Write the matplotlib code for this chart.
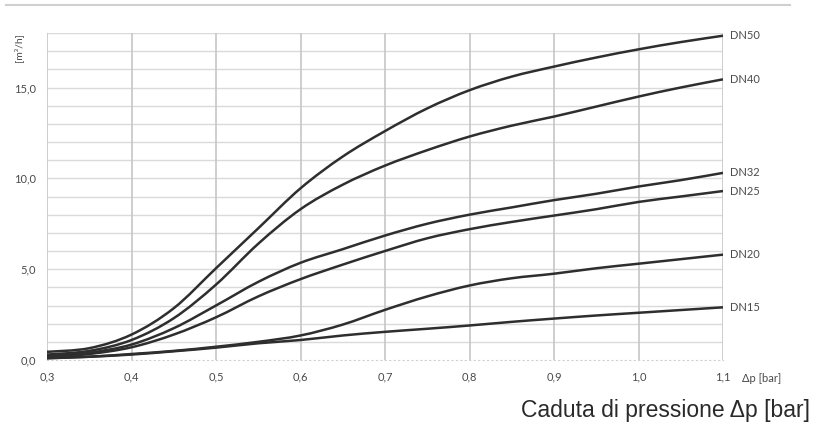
import matplotlib
matplotlib.use("Agg")
import matplotlib.pyplot as plt
from matplotlib.path import Path
from matplotlib.patches import PathPatch
import numpy as np

dp = [0.30, 0.35, 0.40, 0.45, 0.50, 0.55, 0.60, 0.65, 0.70, 0.75, 0.80, 0.85, 0.90, 0.95, 1.00, 1.05, 1.10]
DN50 = [0.45, 0.65, 1.4, 2.85, 5.05, 7.25, 9.45, 11.2, 12.6, 13.85, 14.85, 15.6, 16.15, 16.65, 17.1, 17.5, 17.85]
DN40 = [0.3, 0.5, 1.1, 2.3, 4.15, 6.4, 8.3, 9.65, 10.7, 11.55, 12.3, 12.9, 13.4, 13.95, 14.5, 15.0, 15.45]
DN32 = [0.2, 0.4, 0.85, 1.75, 3.0, 4.3, 5.35, 6.1, 6.85, 7.5, 8.0, 8.4, 8.8, 9.15, 9.55, 9.9, 10.3]
DN25 = [0.15, 0.33, 0.7, 1.4, 2.35, 3.5, 4.45, 5.25, 6.0, 6.7, 7.2, 7.6, 7.95, 8.3, 8.7, 9.0, 9.3]
DN20 = [0.1, 0.18, 0.33, 0.5, 0.73, 1.0, 1.35, 1.95, 2.76, 3.5, 4.1, 4.5, 4.75, 5.05, 5.3, 5.55, 5.8]
DN15 = [0.1, 0.18, 0.3, 0.48, 0.68, 0.92, 1.1, 1.35, 1.55, 1.72, 1.9, 2.1, 2.28, 2.45, 2.6, 2.75, 2.9]

series = {"DN50": DN50, "DN40": DN40, "DN32": DN32, "DN25": DN25, "DN20": DN20, "DN15": DN15}
xticks = [0.3, 0.4, 0.5, 0.6, 0.7, 0.8, 0.9, 1.0, 1.1]
xticklabels = ["0,3", "0,4", "0,5", "0,6", "0,7", "0,8", "0,9", "1,0", "1,1"]
yticks = [0.0, 5.0, 10.0, 15.0]
yticklabels = ["0,0", "5,0", "10,0", "15,0"]

LBL = dict(fontsize=8, color="#4a4a4a", family=["Lato", "DejaVu Sans"])


def smooth_path(x, y, t=1/6):
    # Excel-style smoothed line: cubic Bezier segments through the data points
    x = np.asarray(x, float)
    y = np.asarray(y, float)
    n = len(x)
    verts = [(x[0], y[0])]
    codes = [Path.MOVETO]
    for i in range(n - 1):
        x0, y0 = (x[i - 1], y[i - 1]) if i > 0 else (x[i], y[i])
        x3, y3 = (x[i + 2], y[i + 2]) if i + 2 < n else (x[i + 1], y[i + 1])
        c1 = (x[i] + (x[i + 1] - x0) * t, y[i] + (y[i + 1] - y0) * t)
        c2 = (x[i + 1] - (x3 - x[i]) * t, y[i + 1] - (y3 - y[i]) * t)
        verts += [c1, c2, (x[i + 1], y[i + 1])]
        codes += [Path.CURVE4] * 3
    return Path(verts, codes)


fig = plt.figure(figsize=(8.13, 4.32), dpi=100)
ax = fig.add_axes([47/813, 1-360/432, (723-47)/813, (360-33)/432])
ax.set_xlim(0.3, 1.1)
ax.set_ylim(0, 18)

for v in np.arange(1, 19, 1):
    ax.axhline(v, color="#dadada", lw=1.0, zorder=1)
for v in xticks:
    ax.axvline(v, color="#c6c6c6", lw=1.2, zorder=1)

for name, vals in series.items():
    ax.add_patch(PathPatch(smooth_path(dp, vals), facecolor="none",
                           edgecolor="#2e2e2e", lw=1.8, zorder=3))
    ax.text(1.1 + 0.008, vals[-1], name, va="center", ha="left", clip_on=False, **LBL)

ax.set_xticks(xticks)
ax.set_xticklabels(xticklabels, **LBL)
ax.set_yticks(yticks)
ax.set_yticklabels(yticklabels, **LBL)
ax.tick_params(length=0, pad=8)
for s in ["top", "right", "left"]:
    ax.spines[s].set_visible(False)
ax.spines["bottom"].set_color("#cfcfcf")
ax.spines["bottom"].set_linestyle((0, (1, 3)))

fig.text(762/813, 1-379/432, "Δp [bar]", ha="center", va="center", **LBL)
fig.text(18/813, 1-48/432, "[m³/h]", fontsize=7.5, color="#4a4a4a", rotation=90,
         ha="center", va="center", family=["Lato", "DejaVu Sans"])
fig.text(810/813, 1-410/432, "Caduta di pressione Δp [bar]", fontsize=16.5,
         color="#2a2a2a", ha="right", va="center", family=["Liberation Sans", "DejaVu Sans"])

fig.add_artist(plt.Line2D([6/813, 790/813], [1-5/432, 1-5/432], color="#d0d0d0", lw=1.5))

fig.savefig("out.png", dpi=100)
